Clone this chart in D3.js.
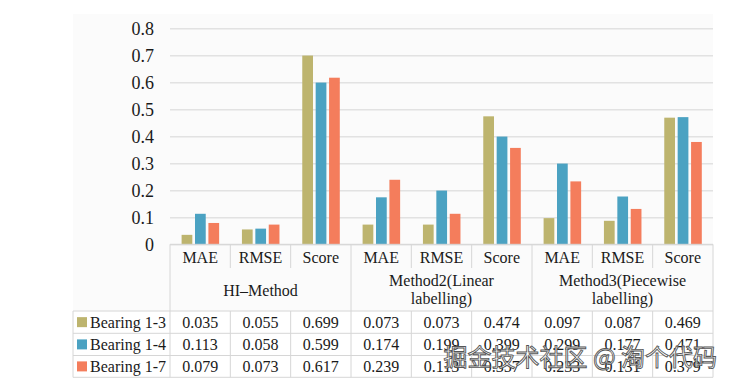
<!DOCTYPE html>
<html>
<head>
<meta charset="utf-8">
<script src="https://cdn.jsdelivr.net/npm/d3@7"></script>
<style>
  body { margin: 0; background: #fff; }
  text { font-family: "Liberation Serif", serif; fill: #1a1a1a; }
</style>
</head>
<body>
<script>
// chart data
var metrics = ["MAE", "RMSE", "Score", "MAE", "RMSE", "Score", "MAE", "RMSE", "Score"];
var groups = [["HI\u2013Method"], ["Method2(Linear", "labelling)"], ["Method3(Piecewise", "labelling)"]];
var seriesNames = ["Bearing 1-3", "Bearing 1-4", "Bearing 1-7"];
var bearing13 = [0.035, 0.055, 0.699, 0.073, 0.073, 0.474, 0.097, 0.087, 0.469];
var bearing14 = [0.113, 0.058, 0.599, 0.174, 0.199, 0.399, 0.299, 0.177, 0.471];
var bearing17 = [0.079, 0.073, 0.617, 0.239, 0.113, 0.357, 0.233, 0.131, 0.379];
var yTicks = [0, 0.1, 0.2, 0.3, 0.4, 0.5, 0.6, 0.7, 0.8];
var colors = ["#bdb46e", "#4ba2c2", "#f47d5c"];

var series = [bearing13, bearing14, bearing17];

var W = 734, H = 388;
var left = 170, right = 713, legendLeft = 73;
var rowCat = [244.3, 268], rowGroup = [268, 311], rows = [311, 333.3, 355.5, 377.3];

var svg = d3.select("body").append("svg")
    .attr("width", W)
    .attr("height", H);

// faint panel
svg.append("rect")
    .attr("x", legendLeft).attr("y", 14)
    .attr("width", right - legendLeft).attr("height", rows[0] - 14)
    .attr("fill", "#fbfbfb");

var x = d3.scaleBand().domain(d3.range(metrics.length)).range([left, right]);
var x1 = d3.scaleBand().domain(d3.range(series.length))
    .range([11.6, x.bandwidth() - 11.2]).paddingInner(0.2);
var y = d3.scaleLinear().domain([0, 0.8]).range([244.3, 28.3]);

// gridlines
svg.append("g")
    .attr("transform", "translate(" + left + ",0)")
    .call(d3.axisLeft(y).tickValues(yTicks).tickSize(-(right - left)).tickFormat(""))
    .call(function(g) {
      g.select(".domain").remove();
      g.selectAll("line").attr("stroke", "#e2e2e2").attr("stroke-width", 1.6);
    });

// y labels
svg.append("g")
    .attr("transform", "translate(154,0)")
    .call(d3.axisLeft(y).tickValues(yTicks).tickSize(0).tickPadding(0)
      .tickFormat(function(d) { return d === 0 ? "0" : d3.format(".1f")(d); }))
    .call(function(g) {
      g.select(".domain").remove();
      g.selectAll("text")
        .style("font-family", "Liberation Serif")
        .style("font-size", "18px")
        .attr("fill", "#1a1a1a");
    });

// bars
svg.append("g").selectAll("g")
    .data(series)
  .enter().append("g")
    .attr("fill", function(d, i) { return colors[i]; })
    .each(function(vals, si) {
      d3.select(this).selectAll("rect")
          .data(vals)
        .enter().append("rect")
          .attr("x", function(d, i) { return x(i) + x1(si); })
          .attr("width", x1.bandwidth())
          .attr("y", function(d) { return y(d); })
          .attr("height", function(d) { return y(0) - y(d); });
    });

// table lines
var lines = svg.append("g").attr("stroke", "#d6d6d6").attr("stroke-width", 1);
function hline(x0, x2, yy) {
  lines.append("line").attr("x1", x0).attr("x2", x2).attr("y1", yy).attr("y2", yy);
}
function vline(xx, y0, y2) {
  lines.append("line").attr("x1", xx).attr("x2", xx).attr("y1", y0).attr("y2", y2);
}
hline(left, right, rowCat[0]);
rows.forEach(function(r) { hline(legendLeft, right, r); });
vline(legendLeft, rows[0], rows[3]);
d3.range(metrics.length + 1).forEach(function(i) {
  var xx = i < metrics.length ? x(i) : right;
  vline(xx, rowCat[0], rowCat[1]);
  vline(xx, rows[0], rows[3]);
  if (i % 3 === 0) vline(xx, rowGroup[0], rowGroup[1]);
});

// metric labels
svg.append("g").selectAll("text")
    .data(metrics)
  .enter().append("text")
    .attr("x", function(d, i) { return x(i) + x.bandwidth() / 2; })
    .attr("y", 257)
    .attr("dy", "0.35em")
    .attr("text-anchor", "middle")
    .style("font-size", "16px")
    .text(function(d) { return d; });

// group labels
svg.append("g").selectAll("text")
    .data(groups)
  .enter().append("text")
    .attr("text-anchor", "middle")
    .style("font-size", "16px")
    .each(function(lns, gi) {
      var cx = x(gi * 3) + x.bandwidth() * 1.5;
      var y0 = lns.length === 1 ? 290 : 280.5;
      d3.select(this).selectAll("tspan")
          .data(lns)
        .enter().append("tspan")
          .attr("x", cx)
          .attr("y", function(d, k) { return y0 + k * 18; })
          .attr("dy", "0.35em")
          .text(function(d) { return d; });
    });

// data rows
var rowG = svg.append("g").selectAll("g")
    .data(series)
  .enter().append("g")
    .attr("transform", function(d, i) { return "translate(0," + (rows[i] + rows[i + 1]) / 2 + ")"; });

rowG.append("rect")
    .attr("x", 77).attr("y", -5)
    .attr("width", 10).attr("height", 10)
    .attr("fill", function(d, i) { return colors[i]; });

rowG.append("text")
    .attr("x", 90)
    .attr("dy", "0.35em")
    .style("font-size", "16px")
    .text(function(d, i) { return seriesNames[i]; });

rowG.selectAll("text.val")
    .data(function(d) { return d; })
  .enter().append("text")
    .attr("class", "val")
    .attr("x", function(d, i) { return x(i) + x.bandwidth() / 2; })
    .attr("dy", "0.35em")
    .attr("text-anchor", "middle")
    .style("font-size", "16px")
    .text(function(d) { return d3.format(".3f")(d); });

// watermark
svg.append("text")
    .attr("x", 717)
    .attr("y", 358)
    .attr("dy", "0.35em")
    .attr("text-anchor", "end")
    .style("font-family", "Noto Sans CJK SC")
    .style("font-size", "24px")
    .style("fill", "#ffffff")
    .attr("fill-opacity", 0.85)
    .attr("stroke", "#555")
    .attr("stroke-width", 0.9)
    .text("掘金技术社区 @ 淘个代码");
</script>
</body>
</html>
